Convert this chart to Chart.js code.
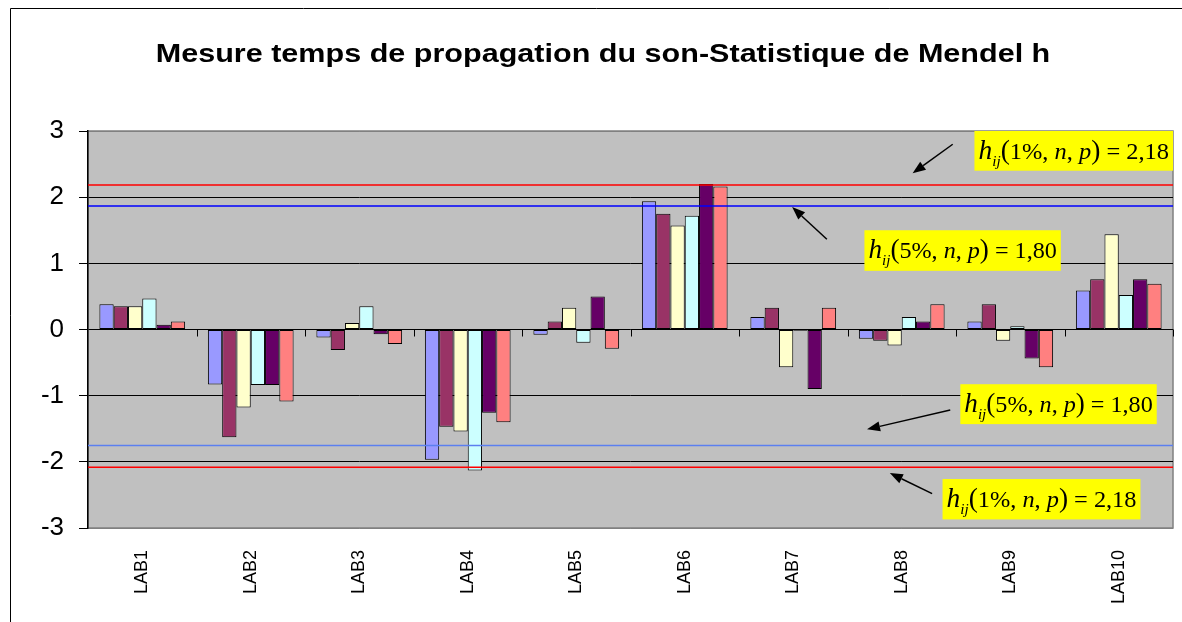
<!DOCTYPE html>
<html>
<head>
<meta charset="utf-8">
<script src="https://cdn.jsdelivr.net/npm/chart.js@4/dist/chart.umd.min.js"></script>
<style>
  html, body { margin: 0; padding: 0; background: #fff; }
  #wrap { width: 1182px; height: 622px; position: relative; }
</style>
</head>
<body>
<div id="wrap"><canvas id="c" width="1182" height="622"></canvas></div>
<script>
// ---- Data ----
const categories = ['LAB1','LAB2','LAB3','LAB4','LAB5','LAB6','LAB7','LAB8','LAB9','LAB10'];
const serie1 = [0.38, -0.83, -0.12, -1.97, -0.08, 1.94, 0.19, -0.14, 0.12, 0.59];
const serie2 = [0.35, -1.63, -0.31, -1.47, 0.12, 1.75, 0.33, -0.17, 0.38, 0.76];
const serie3 = [0.35, -1.18, 0.10, -1.54, 0.33, 1.57, -0.57, -0.24, -0.17, 1.44];
const serie4 = [0.47, -0.84, 0.35, -2.13, -0.20, 1.72, -0.02, 0.19, 0.05, 0.52];
const serie5 = [0.07, -0.84, -0.07, -1.26, 0.50, 2.20, -0.90, 0.12, -0.44, 0.76];
const serie6 = [0.12, -1.09, -0.22, -1.40, -0.29, 2.16, 0.33, 0.38, -0.57, 0.69];
const yTicks = [3, 2, 1, 0, -1, -2, -3];
const title = 'Mesure temps de propagation du son-Statistique de Mendel h';
// critical value lines (as drawn in the picture)
const limitValues = [2.185, 1.865, -1.755, -2.08];
const limitColors = ['#ff0000', '#0000ff', '#5b7ff0', '#ff0000'];
// annotation labels
const labelPct = ['1%', '5%', '5%', '1%'];
const labelVal = ['2,18', '1,80', '1,80', '2,18'];

// ---- styling / placement (in category units from left edge, y in axis values) ----
const boxes = [
  {x0: 8.17, x1: 10.0, y0: 3.0, y1: 2.40},
  {x0: 7.156, x1: 8.966, y0: 1.50, y1: 0.887},
  {x0: 8.04, x1: 9.85, y0: -0.827, y1: -1.43},
  {x0: 7.876, x1: 9.70, y0: -2.26, y1: -2.87}
];
const arrows = [
  {x0: 7.97, y0: 2.80, x1: 7.60, y1: 2.36},
  {x0: 6.81, y0: 1.364, x1: 6.49, y1: 1.85},
  {x0: 7.947, y0: -1.218, x1: 7.18, y1: -1.508},
  {x0: 7.78, y0: -2.48, x1: 7.39, y1: -2.17}
];
const colors = ['#9999ff', '#993366', '#ffffcc', '#ccffff', '#660066', '#ff8080'];
const SANS = '"Liberation Sans", Arial, sans-serif';
const SERIF = '"Liberation Serif", "Times New Roman", serif';

const seriesList = [serie1, serie2, serie3, serie4, serie5, serie6];

const decor = {
  id: 'decor',
  beforeDraw(chart) {
    const ctx = chart.ctx, a = chart.chartArea;
    ctx.save();
    ctx.fillStyle = '#fff';
    ctx.fillRect(0, 0, chart.width, chart.height);
    // outer frame
    ctx.strokeStyle = '#000';
    ctx.lineWidth = 1;
    ctx.beginPath();
    ctx.moveTo(10.5, chart.height + 2);
    ctx.lineTo(10.5, 8.5);
    ctx.lineTo(chart.width + 2, 8.5);
    ctx.stroke();
    // title (stretched horizontally like the original)
    ctx.font = 'bold 26px ' + SANS;
    ctx.fillStyle = '#000';
    ctx.textAlign = 'center';
    ctx.textBaseline = 'alphabetic';
    ctx.translate(603, 62);
    ctx.scale(1.175, 1);
    ctx.fillText(title, 0, 0);
    ctx.setTransform(1, 0, 0, 1, 0, 0);
    // plot area
    ctx.fillStyle = '#c0c0c0';
    ctx.fillRect(a.left, a.top, a.right - a.left, a.bottom - a.top);
    ctx.strokeStyle = '#808080';
    ctx.lineWidth = 1.5;
    ctx.strokeRect(a.left, a.top, a.right - a.left, a.bottom - a.top);
    ctx.restore();
  },
  afterDatasetsDraw(chart) {
    const ctx = chart.ctx, a = chart.chartArea;
    const xs = chart.scales.x, ys = chart.scales.y;
    const px = u => xs.getPixelForValue(u - 0.5);
    const py = v => ys.getPixelForValue(v);
    ctx.save();
    // category ticks on zero line
    const y0 = py(0);
    ctx.strokeStyle = '#000';
    ctx.lineWidth = 1;
    for (let i = 1; i <= categories.length; i++) {
      const x = Math.round(px(i)) + 0.5;
      ctx.beginPath();
      ctx.moveTo(x, y0);
      ctx.lineTo(x, y0 + 7);
      ctx.stroke();
    }
    // limit lines
    limitValues.forEach((v, i) => {
      ctx.strokeStyle = limitColors[i];
      ctx.lineWidth = 1.5;
      ctx.beginPath();
      ctx.moveTo(a.left, py(v));
      ctx.lineTo(a.right, py(v));
      ctx.stroke();
    });
    // arrows
    arrows.forEach(ar => {
      const x0 = px(ar.x0), yA = py(ar.y0), x1 = px(ar.x1), yB = py(ar.y1);
      const ang = Math.atan2(yB - yA, x1 - x0);
      const hl = 13, hw = 5;
      const bx = x1 - hl * Math.cos(ang), by = yB - hl * Math.sin(ang);
      ctx.strokeStyle = '#000';
      ctx.fillStyle = '#000';
      ctx.lineWidth = 1.5;
      ctx.beginPath();
      ctx.moveTo(x0, yA);
      ctx.lineTo(bx, by);
      ctx.stroke();
      ctx.beginPath();
      ctx.moveTo(x1, yB);
      ctx.lineTo(bx + hw * Math.sin(ang), by - hw * Math.cos(ang));
      ctx.lineTo(bx - hw * Math.sin(ang), by + hw * Math.cos(ang));
      ctx.closePath();
      ctx.fill();
    });
    // label boxes
    boxes.forEach((b, i) => {
      const l = px(b.x0), r = px(b.x1), t = py(b.y0), bt = py(b.y1);
      ctx.fillStyle = '#ffff00';
      ctx.fillRect(l, t, r - l, bt - t);
      const segs = [
        {t: 'h', it: true, big: true},
        {t: 'ij', it: true, sub: true},
        {t: '(', it: false, big: true},
        {t: labelPct[i] + ', ', it: false},
        {t: 'n', it: true},
        {t: ', ', it: false},
        {t: 'p', it: true},
        {t: ')', it: false, big: true},
        {t: ' = ' + labelVal[i], it: false}
      ];
      const fs = 24;
      const fontFor = s => (s.it ? 'italic ' : '') + (s.sub ? 15 : (s.big ? 27 : fs)) + 'px ' + SERIF;
      let w = 0;
      segs.forEach(s => { ctx.font = fontFor(s); w += ctx.measureText(s.t).width; });
      const avail = (r - l) - 8;
      const k = Math.min(1.06, avail / w);
      let x = l + ((r - l) - w * k) / 2;
      const base = (t + bt) / 2 + fs * 0.33;
      ctx.fillStyle = '#000';
      ctx.textBaseline = 'alphabetic';
      ctx.textAlign = 'left';
      segs.forEach(s => {
        ctx.font = fontFor(s);
        ctx.save();
        ctx.translate(x, base + (s.sub ? 7 : 0));
        ctx.scale(k, 1);
        ctx.fillText(s.t, 0, 0);
        ctx.restore();
        x += ctx.measureText(s.t).width * k;
      });
    });
    ctx.restore();
  }
};

new Chart(document.getElementById('c'), {
  type: 'bar',
  data: {
    labels: categories,
    datasets: seriesList.map((d, i) => ({
      label: 'Série' + (i + 1),
      data: d,
      backgroundColor: colors[i],
      borderColor: '#000',
      borderWidth: 1,
      borderSkipped: false,
      categoryPercentage: 0.79,
      barPercentage: 1.0
    }))
  },
  options: {
    responsive: false,
    devicePixelRatio: 1,
    animation: false,
    layout: { padding: { left: 0, right: 9, top: 131, bottom: 0 } },
    plugins: {
      legend: { display: false },
      tooltip: { enabled: false },
      title: { display: false }
    },
    scales: {
      x: {
        grid: { display: false },
        border: { display: false },
        ticks: {
          color: '#000',
          font: { family: SANS, size: 18 },
          minRotation: 90,
          maxRotation: 90,
          padding: 14,
          autoSkip: false
        },
        afterFit: s => { s.height = 94; }
      },
      y: {
        min: -3,
        max: 3,
        afterBuildTicks: s => { s.ticks = yTicks.map(v => ({ value: v })); },
        grid: {
          color: c => (c.tick && Math.abs(c.tick.value) === 3) ? '#808080' : '#000',
          tickColor: '#000',
          tickLength: 9,
          lineWidth: 1
        },
        border: { display: true, color: '#000', width: 1.5 },
        ticks: {
          color: '#000',
          font: { family: SANS, size: 26 },
          padding: 15,
          callback: v => String(v)
        },
        afterFit: s => { s.width = 88; }
      }
    }
  },
  plugins: [decor]
});
</script>
</body>
</html>
